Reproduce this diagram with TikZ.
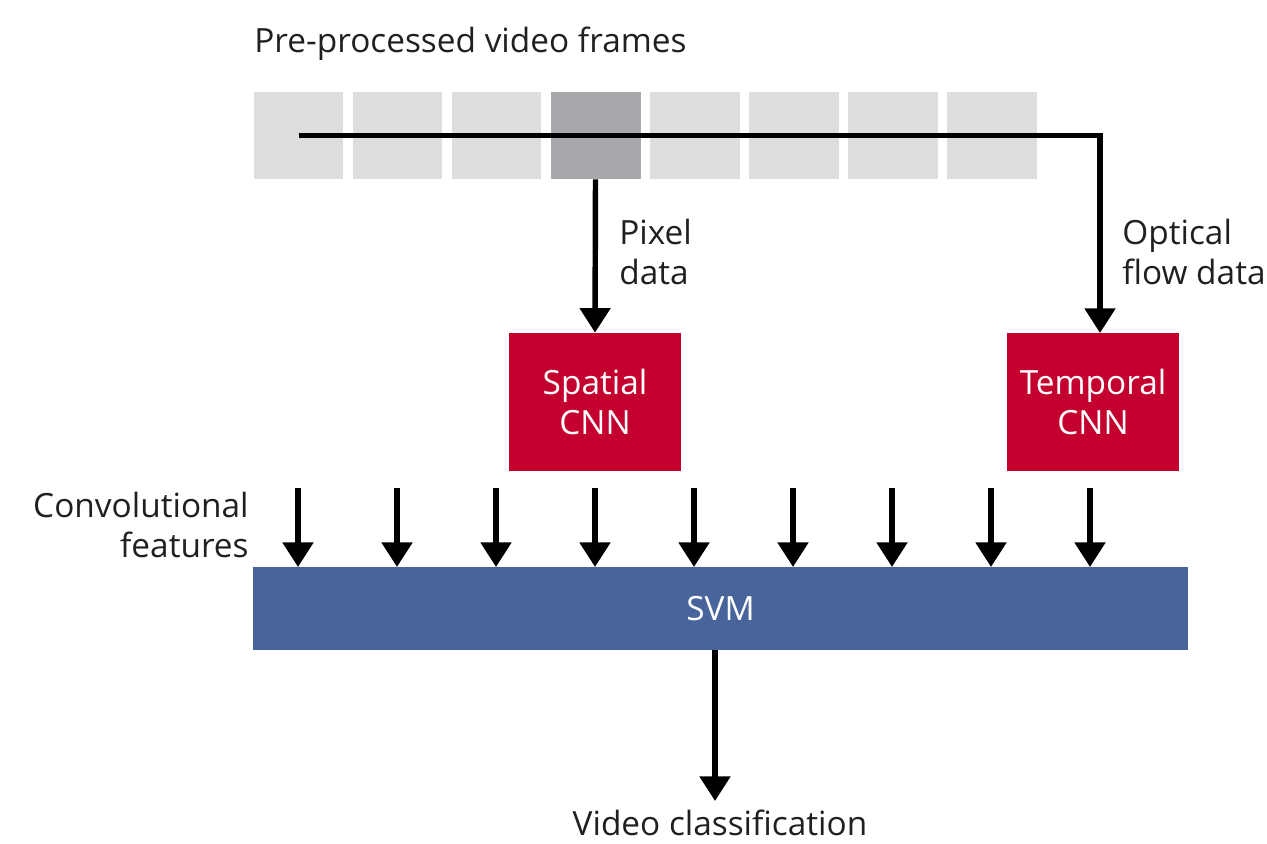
\documentclass[tikz,border=0pt]{standalone}
\usepackage{fontspec}
\setmainfont{Open Sans}
\usepackage{tikz}
\usetikzlibrary{arrows.meta}
\usetikzlibrary{calc}
\definecolor{framegrey}{HTML}{DCDDDF}
\definecolor{framedark}{HTML}{A7A8AB}
\definecolor{cnnred}{HTML}{C4002F}
\definecolor{svmblue}{HTML}{47659A}
\definecolor{txtgrey}{HTML}{231F20}
\tikzset{
	frame/.style={fill=framegrey, minimum width=1.8cm, minimum height=1.74cm, inner sep=0pt},
	cnn/.style={fill=cnnred, text=white, align=center, minimum width=3.44cm, minimum height=2.76cm, inner sep=0pt},
	flow/.style={line width=3.1pt, -{Triangle[length=14pt,width=17pt]}},
	lbl/.style={text=txtgrey, inner sep=0pt}
}
\begin{document}
\begin{tikzpicture}[x=0.02cm, y=-0.02cm, font=\fontsize{19}{23}\selectfont]
\useasboundingbox (0,0) rectangle (1267,844);
\foreach \i in {1,...,8}
	\node[frame] (f\i) at ({298.5+99*(\i-1)},135.5) {};
\node[frame, fill=framedark] at (f4) {};
\node[lbl, anchor=west] (title) at (254,44) {Pre-processed video frames};
\node[cnn] (spatial) at (595,402) {Spatial\\CNN};
\node[cnn] (temporal) at (1093,402) {Temporal\\CNN};
\node[fill=svmblue, text=white, minimum width=18.7cm, minimum height=1.66cm, inner sep=0pt] (svm) at (720.5,608.5) {SVM};
\node[lbl, anchor=west, align=left] (pixel) at (619,252) {Pixel\\data};
\node[lbl, anchor=west, align=left] (optical) at (1122,252) {Optical\\flow data};
\node[lbl, anchor=east, align=right] (conv) at (249,525) {Convolutional\\features};
\node[lbl] (video) at (720,823) {Video classification};
\coordinate (tin) at (1100,333);
\coordinate (vout) at (715,801);
\draw[flow] (f4.south) -- (spatial.north);
\draw[flow] (f1.center) -| (tin);
\foreach \k in {0,...,8}
	\draw[flow] ({298+99*\k},488) -- ({298+99*\k},567);
\draw[flow] (svm.south -| vout) -- (vout);
\end{tikzpicture}
\end{document}
